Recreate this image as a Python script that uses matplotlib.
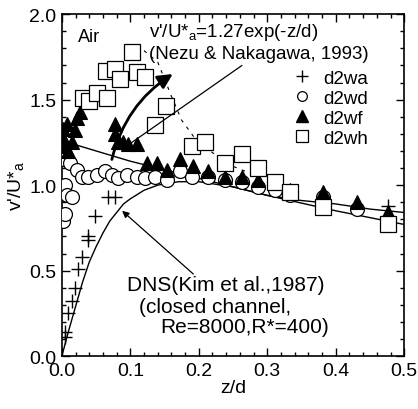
import numpy as np
import matplotlib
matplotlib.use("Agg")
import matplotlib.pyplot as plt
from matplotlib.ticker import MultipleLocator, FormatStrFormatter
from matplotlib.lines import Line2D

plt.rcParams["font.family"] = ["Liberation Sans", "DejaVu Sans"]
plt.rcParams["mathtext.default"] = "regular"

# d2wa (+)
wa_z = [0.004, 0.004, 0.009, 0.015, 0.019, 0.023, 0.029, 0.038, 0.038, 0.048, 0.067, 0.077, 0.477]
wa_v = [0.11, 0.14, 0.25, 0.32, 0.40, 0.51, 0.58, 0.68, 0.70, 0.82, 0.93, 0.93, 0.88]

# d2wd (open circles)
wd_z = [0.001, 0.004, 0.004, 0.007, 0.015, 0.002, 0.012, 0.022, 0.029, 0.038, 0.051, 0.063,
        0.073, 0.082, 0.095, 0.110, 0.121, 0.136, 0.153, 0.172, 0.190, 0.214, 0.238,
        0.263, 0.287, 0.311, 0.333, 0.382, 0.431, 0.477]
wd_v = [0.79, 0.83, 1.00, 0.94, 0.93, 1.15, 1.13, 1.09, 1.05, 1.05, 1.06, 1.08,
        1.06, 1.04, 1.06, 1.05, 1.04, 1.05, 1.03, 1.08, 1.05, 1.05, 1.03,
        1.02, 0.99, 0.97, 0.94, 0.93, 0.86, 0.79]

# d2wf (filled triangles)
wf_z = [0.002, 0.008, 0.000, 0.004, 0.009, 0.015, 0.019, 0.022, 0.026, 0.077, 0.077,
        0.082, 0.089, 0.097, 0.110, 0.124, 0.139, 0.153, 0.172, 0.192, 0.214, 0.238,
        0.263, 0.287, 0.333, 0.382, 0.431, 0.477]
wf_v = [1.33, 1.36, 1.29, 1.23, 1.20, 1.25, 1.32, 1.39, 1.43, 1.36, 1.30,
        1.25, 1.25, 1.24, 1.24, 1.13, 1.13, 1.09, 1.15, 1.11, 1.08, 1.05,
        1.05, 1.03, 0.97, 0.96, 0.90, 0.84]

# d2wh (open squares)
wh_z = [0.031, 0.040, 0.051, 0.066, 0.064, 0.077, 0.085, 0.102, 0.110, 0.121, 0.136,
        0.152, 0.190, 0.209, 0.238, 0.263, 0.287, 0.311, 0.333, 0.382, 0.477]
wh_v = [1.51, 1.49, 1.54, 1.51, 1.67, 1.68, 1.62, 1.78, 1.66, 1.63, 1.35,
        1.46, 1.23, 1.25, 1.13, 1.18, 1.10, 1.02, 0.96, 0.87, 0.77]

# faint dashed trend through d2wh
whd_z = [0.110, 0.140, 0.160, 0.175, 0.195, 0.220, 0.250, 0.275]
whd_v = [1.82, 1.72, 1.52, 1.38, 1.27, 1.19, 1.11, 1.07]

# v'/U*a = 1.27 exp(-z/d) line
nezu_z = [0.0, 0.1, 0.2, 0.3, 0.4, 0.5]
nezu_v = [1.26, 1.14, 1.04, 0.94, 0.85, 0.77]

# DNS (Kim et al., 1987)
dns_z = [0.0, 0.01, 0.02, 0.03, 0.04, 0.05, 0.06, 0.07, 0.08, 0.09, 0.10, 0.12,
         0.14, 0.17, 0.20, 0.25, 0.30, 0.35, 0.40, 0.45, 0.50]
dns_v = [0.0, 0.15, 0.29, 0.43, 0.55, 0.64, 0.72, 0.79, 0.84, 0.89, 0.92, 0.97,
         1.00, 1.02, 1.02, 0.99, 0.94, 0.91, 0.89, 0.86, 0.84]

fig = plt.figure(figsize=(4.18, 4.10), dpi=100)
ax = fig.add_axes([0.148, 0.129, 0.819, 0.834])

ax.plot(nezu_z, nezu_v, color="black", lw=1.0, zorder=2)
ax.plot(dns_z, dns_v, color="black", lw=1.0, zorder=2)
ax.plot(whd_z, whd_v, color="black", lw=0.8, ls=(0, (3, 5)), zorder=1)

ax.plot(wa_z, wa_v, ls="none", marker="+", ms=10, mew=1.0, color="black", zorder=3)
ax.plot(wd_z, wd_v, ls="none", marker="o", ms=10, mew=0.9, mfc="white", mec="black", zorder=3)
ax.plot(wf_z, wf_v, ls="none", marker="^", ms=10, mew=0.8, mfc="black", mec="black", zorder=4)
ax.plot(wh_z, wh_v, ls="none", marker="s", ms=11, mew=0.9, mfc="white", mec="black", zorder=5)

# arrows
ax.annotate("", xy=(0.162, 1.65), xytext=(0.073, 1.15),
            arrowprops=dict(arrowstyle="-|>", color="black", lw=2.0, mutation_scale=22,
                            connectionstyle="arc3,rad=-0.2", shrinkA=0, shrinkB=0), zorder=6)
ax.annotate("", xy=(0.088, 1.21), xytext=(0.263, 1.70),
            arrowprops=dict(arrowstyle="-", color="black", lw=0.9, shrinkA=0, shrinkB=0), zorder=6)
ax.annotate("", xy=(0.088, 0.85), xytext=(0.192, 0.48),
            arrowprops=dict(arrowstyle="-|>", color="black", lw=0.9, mutation_scale=10,
                            shrinkA=0, shrinkB=0), zorder=6)

# texts
ax.text(0.023, 1.87, "Air", fontsize=13, va="center", ha="left")
ax.text(0.127, 1.90, "v'/U*$_a$=1.27exp(-z/d)", fontsize=13.5, va="center", ha="left")
ax.text(0.127, 1.77, "(Nezu & Nakagawa, 1993)", fontsize=13.5, va="center", ha="left")
ax.text(0.095, 0.42, "DNS(Kim et al.,1987)", fontsize=15, va="center", ha="left")
ax.text(0.112, 0.29, "(closed channel,", fontsize=15, va="center", ha="left")
ax.text(0.143, 0.175, "Re=8000,R*=400)", fontsize=15, va="center", ha="left")

handles = [
    Line2D([], [], ls="none", marker="+", ms=8, mew=1.0, color="black"),
    Line2D([], [], ls="none", marker="o", ms=7, mew=0.9, mfc="white", mec="black"),
    Line2D([], [], ls="none", marker="^", ms=8, mfc="black", mec="black"),
    Line2D([], [], ls="none", marker="s", ms=8, mew=0.9, mfc="white", mec="black"),
]
ax.legend(handles, ["d2wa", "d2wd", "d2wf", "d2wh"], loc="upper left",
          bbox_to_anchor=(0.648, 0.865), frameon=False, fontsize=13.5,
          handlelength=1.0, handletextpad=0.6, labelspacing=0.15, borderpad=0)

ax.set_xlim(0, 0.5)
ax.set_ylim(0, 2.0)
ax.xaxis.set_major_locator(MultipleLocator(0.1))
ax.xaxis.set_minor_locator(MultipleLocator(0.02))
ax.yaxis.set_major_locator(MultipleLocator(0.5))
ax.yaxis.set_minor_locator(MultipleLocator(0.1))
ax.xaxis.set_major_formatter(FormatStrFormatter("%.1f"))
ax.yaxis.set_major_formatter(FormatStrFormatter("%.1f"))
ax.tick_params(which="both", direction="in", top=True, right=True, labelsize=14, width=1.0)
ax.tick_params(axis="x", which="major", length=6, pad=4)
ax.tick_params(axis="y", which="major", length=6, pad=4)
ax.tick_params(which="minor", length=3)
for s in ax.spines.values():
    s.set_linewidth(1.2)

ax.set_xlabel("z/d", fontsize=14, labelpad=0)
ax.set_ylabel("v'/U*$_a$", fontsize=14, labelpad=2)

fig.savefig("out.png", dpi=100)
